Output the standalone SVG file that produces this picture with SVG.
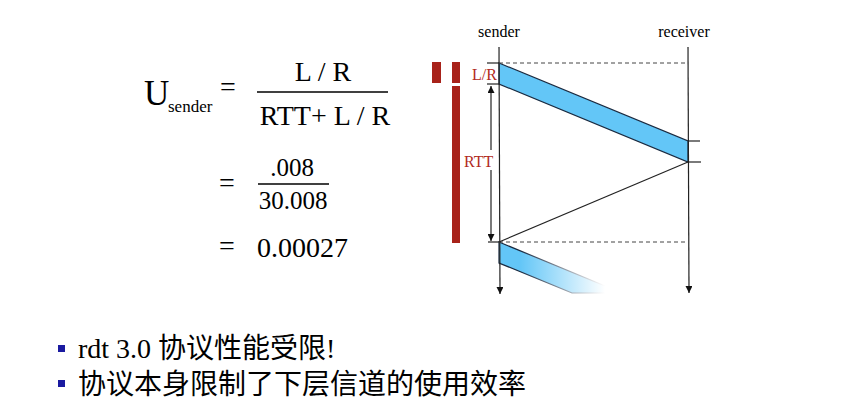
<svg xmlns="http://www.w3.org/2000/svg" width="860" height="404" viewBox="0 0 860 404">
<style>
.tm{font-family:"Liberation Serif","Times New Roman",serif;fill:#000}
.red{fill:#b22a22}
.ln{stroke:#222;stroke-width:1.2;fill:none}
.dash{stroke:#444;stroke-width:1;stroke-dasharray:4 3;fill:none}
.band{fill:#63c6f7;stroke:#1a2a40;stroke-width:1.2}
.cjk{font-family:"Liberation Serif","Noto Sans CJK SC",serif;font-size:28px;fill:#000}
</style>
<defs>
<marker id="ah" viewBox="0 0 10 10" refX="10" refY="5" markerWidth="7" markerHeight="7" orient="auto" markerUnits="userSpaceOnUse">
<path d="M0,0 L10,5 L0,10 Z" fill="#111"/>
</marker>
<linearGradient id="fade" gradientUnits="userSpaceOnUse" x1="520" y1="0" x2="605" y2="0">
<stop offset="0" stop-color="#fff"/>
<stop offset="1" stop-color="#fff" stop-opacity="0"/>
</linearGradient>
<mask id="m">
<rect x="490" y="230" width="150" height="70" fill="url(#fade)"/>
</mask>
</defs>
<rect width="860" height="404" fill="#fff"/>

<g id="formula">
<text class="tm" x="144" y="105" font-size="35">U</text>
<text class="tm" x="168" y="112" font-size="17">sender</text>
<text class="tm" x="220" y="96" font-size="28">=</text>
<text class="tm" x="323" y="81" font-size="28" text-anchor="middle">L / R</text>
<line x1="257" y1="92" x2="388" y2="92" stroke="#000" stroke-width="1.6"/>
<text class="tm" x="325" y="125" font-size="28" text-anchor="middle">RTT+ L / R</text>
<text class="tm" x="219" y="192" font-size="28">=</text>
<text class="tm" x="292" y="176" font-size="25" text-anchor="middle">.008</text>
<line x1="258" y1="184" x2="329" y2="184" stroke="#000" stroke-width="1.4"/>
<text class="tm" x="293" y="209" font-size="25" text-anchor="middle">30.008</text>
<text class="tm" x="219" y="255" font-size="28">=</text>
<text class="tm" x="257" y="257" font-size="28">0.00027</text>
</g>

<g id="red-bars">
<rect x="432" y="62" width="9" height="21" fill="#a8221a"/>
<rect x="452" y="62" width="8" height="21" fill="#a8221a"/>
<rect x="452" y="86" width="8" height="157" fill="#a8221a"/>
</g>

<g id="sender">
<text class="tm" x="499" y="37" font-size="16" text-anchor="middle">sender</text>
</g>
<g id="receiver">
<text class="tm" x="684" y="37" font-size="16" text-anchor="middle">receiver</text>
</g>

<g id="packet1">
<polygon class="band" points="499,63 688,141 688,162 499,84"/>
</g>
<g id="packet2" mask="url(#m)">
<polygon class="band" points="499,242 622,293 572,293 499,263"/>
</g>

<g id="connectors">
<line class="ln" x1="499" y1="47" x2="500" y2="294" marker-end="url(#ah)"/>
<line class="ln" x1="688" y1="47" x2="689" y2="293" marker-end="url(#ah)"/>
<line class="dash" x1="499" y1="63" x2="688" y2="63"/>
<line class="dash" x1="499" y1="242" x2="688" y2="242" stroke="#777"/>
<line class="ln" x1="487" y1="63" x2="499" y2="63"/>
<line class="ln" x1="487" y1="84" x2="499" y2="84"/>
<line class="ln" x1="488" y1="242" x2="499" y2="242"/>
<line class="ln" x1="688" y1="141" x2="700" y2="141"/>
<line class="ln" x1="688" y1="162" x2="701" y2="162"/>
<line class="ln" x1="688" y1="162" x2="499" y2="242"/>
<line class="ln" x1="491" y1="150" x2="491" y2="86" marker-end="url(#ah)"/>
<line class="ln" x1="491" y1="170" x2="491" y2="241" marker-end="url(#ah)"/>
</g>

<g id="labels">
<text class="tm red" x="472" y="80" font-size="16">L/R</text>
<text class="tm red" x="464" y="167" font-size="16">RTT</text>
</g>

<g id="bullets">
<rect x="58" y="345" width="7" height="7" fill="#1a1aa0"/>
<text class="cjk" x="78" y="358">rdt 3.0 协议性能受限!</text>
<rect x="58" y="380" width="7" height="7" fill="#1a1aa0"/>
<text class="cjk" x="78" y="394">协议本身限制了下层信道的使用效率</text>
</g>
</svg>
